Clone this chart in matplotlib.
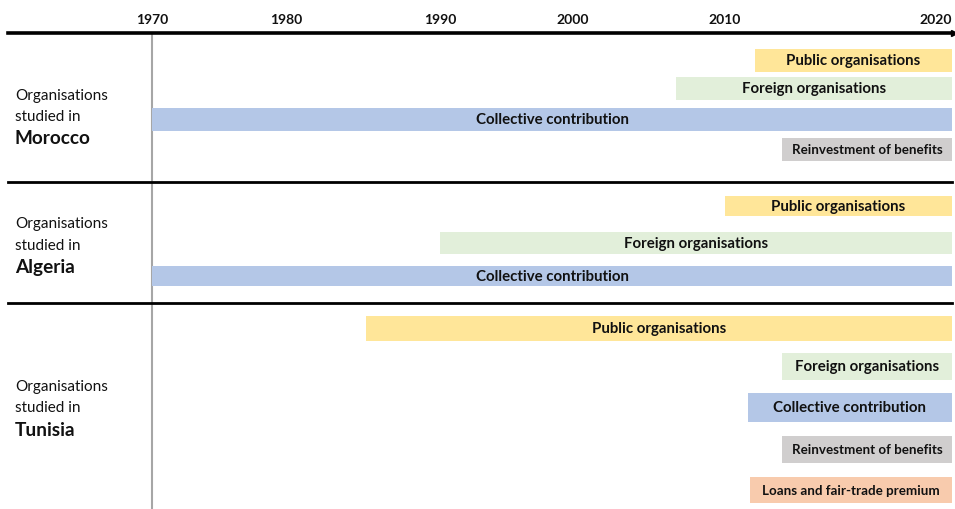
import numpy as np
import matplotlib
matplotlib.use("Agg")
import matplotlib.pyplot as plt
from matplotlib.lines import Line2D

plt.rcParams['font.family'] = ['Lato', 'DejaVu Sans']

# ---- data -------------------------------------------------------------
tick_years = [1970, 1980, 1990, 2000, 2010, 2020]
end_year = 2020

countries = ['Morocco', 'Algeria', 'Tunisia']

morocco_sources = ['Public organisations', 'Foreign organisations',
                   'Collective contribution', 'Reinvestment of benefits']
morocco_start = [2011.3, 2006.8, 1970, 2012.5]

algeria_sources = ['Public organisations', 'Foreign organisations',
                   'Collective contribution']
algeria_start = [2010, 1990, 1970]

tunisia_sources = ['Public organisations', 'Foreign organisations',
                   'Collective contribution', 'Reinvestment of benefits',
                   'Loans and fair-trade premium']
tunisia_start = [1985.2, 2012.5, 2011, 2012.5, 2011.1]

# ---- styling / layout -------------------------------------------------
colors = {
    'Public organisations': '#FFE699',
    'Foreign organisations': '#E2EFDA',
    'Collective contribution': '#B4C7E7',
    'Reinvestment of benefits': '#D0CECE',
    'Loans and fair-trade premium': '#F8CBAD',
}
small_labels = ['Reinvestment of benefits', 'Loans and fair-trade premium']

# the year axis of the original is hand drawn: ticks are not evenly spaced
tick_px = [0, 134, 288, 421, 573, 800]


def fwd(x):
    return np.interp(x, tick_years, tick_px)


def inv(x):
    return np.interp(x, tick_px, tick_years)


# row centres / heights (pixels from top) per country
rows = {
    'Morocco': [(61, 23), (89.5, 23), (120.5, 23), (150.5, 23)],
    'Algeria': [(207, 20), (244, 22), (277, 20)],
    'Tunisia': [(329.5, 25), (367.5, 27), (408.5, 29), (450.5, 27), (491, 26)],
}
label_y = {'Morocco': (96, 117, 139), 'Algeria': (224, 246, 268),
           'Tunisia': (387, 408, 431)}
separators = [183, 304]

W, H = 955, 510
fig = plt.figure(figsize=(W / 100, H / 100), dpi=100)
ax = fig.add_axes([152 / W, 0, 800 / W, 1])
ax.set_xscale('function', functions=(fwd, inv))
ax.set_xlim(1970, 2020)
ax.set_ylim(H, 0)
ax.axis('off')

data = {
    'Morocco': (morocco_sources, morocco_start),
    'Algeria': (algeria_sources, algeria_start),
    'Tunisia': (tunisia_sources, tunisia_start),
}

for c in countries:
    sources, starts = data[c]
    for (yc, h), src, s in zip(rows[c], sources, starts):
        ax.barh(yc, end_year - s, left=s, height=h, color=colors[src],
                linewidth=0, zorder=2)
        xc = inv((fwd(s) + fwd(end_year)) / 2)
        fs = 9.6 if src in small_labels else 10.8
        ax.text(xc, yc, src, ha='center', va='center', fontsize=fs,
                fontweight='bold', color='#111111', zorder=3)

# vertical 1970 line
ax.plot([1970, 1970], [34, H], color='#A6A6A6', lw=1.5, zorder=1,
        clip_on=False)

# year labels
for yr in tick_years:
    ha = 'right' if yr == tick_years[-1] else 'center'
    ax.text(yr, 20, str(yr), ha=ha, va='center', fontsize=10,
            fontweight='bold', color='#111111')

# top axis line with arrow, separators
fig.add_artist(Line2D([8 / W, 952 / W], [1 - 34 / H, 1 - 34 / H],
                      color='black', lw=2.6, transform=fig.transFigure))
fig.add_artist(Line2D([954 / W], [1 - 34 / H], marker='>', markersize=4,
                      color='black', transform=fig.transFigure))
for sy in separators:
    fig.add_artist(Line2D([8 / W, 952 / W], [1 - sy / H, 1 - sy / H],
                          color='black', lw=2, transform=fig.transFigure))

# country labels on the left
for c in countries:
    y1, y2, y3 = label_y[c]
    fig.text(15 / W, 1 - y1 / H, 'Organisations', fontsize=11, va='center',
             color='#111111')
    fig.text(15 / W, 1 - y2 / H, 'studied in', fontsize=11, va='center',
             color='#111111')
    fig.text(15 / W, 1 - y3 / H, c, fontsize=13.7, fontweight='bold',
             va='center', color='#111111')

fig.savefig('out.png', dpi=100)
